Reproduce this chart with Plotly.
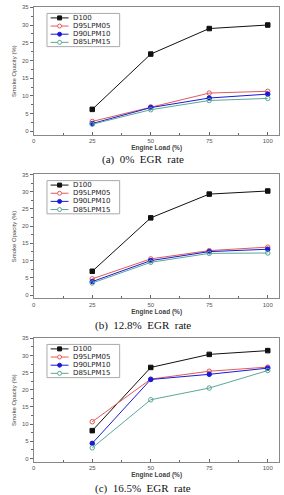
import plotly.graph_objects as go

loads = [25, 50, 75, 100]
series_names = ["D100", "D95LPM05", "D90LPM10", "D85LPM15"]

# (a) 0% EGR
a_d100 = [6.2, 21.8, 29.0, 30.0]
a_d95 = [2.8, 6.9, 10.8, 11.3]
a_d90 = [2.2, 6.7, 9.4, 10.5]
a_d85 = [2.0, 6.1, 8.7, 9.3]

# (b) 12.8% EGR
b_d100 = [6.9, 22.4, 29.3, 30.2]
b_d95 = [4.7, 10.5, 12.9, 13.9]
b_d90 = [3.9, 10.0, 12.6, 13.3]
b_d85 = [3.5, 9.5, 12.1, 12.2]

# (c) 16.5% EGR
c_d100 = [8.1, 26.5, 30.3, 31.4]
c_d95 = [10.7, 23.1, 25.4, 26.6]
c_d90 = [4.4, 23.0, 24.5, 26.3]
c_d85 = [3.1, 17.1, 20.5, 25.6]

NB = "\u00a0"
captions = [f"(a){NB*2}0%{NB*2}EGR{NB*2}rate",
            f"(b){NB*2}12.8%{NB*2}EGR{NB*2}rate",
            f"(c){NB*2}16.5%{NB*2}EGR{NB*2}rate"]
x_ticks = [0, 25, 50, 75, 100]
y_ticks = [0, 5, 10, 15, 20, 25, 30, 35]

colors = ["#111111", "#e35a5a", "#1a1ad6", "#5aa898"]
symbols = ["square", "circle-open", "circle", "circle-open"]
filled = [True, False, True, False]

panels = [
    [a_d100, a_d95, a_d90, a_d85],
    [b_d100, b_d95, b_d90, b_d85],
    [c_d100, c_d95, c_d90, c_d85],
]

W, H = 284, 495
panel_px = [(4.3, 132.7), (172.5, 297.3), (337.3, 461.7)]
caption_px = [157, 324, 488.7]
x_px = (32, 279.4)


def px(xp):
    return xp / W


def py(yp):
    return 1 - yp / H


fig = go.Figure()
for p, data in enumerate(panels):
    xa = "x" if p == 0 else f"x{p+1}"
    ya = "y" if p == 0 else f"y{p+1}"
    for i, vals in enumerate(data):
        fig.add_trace(go.Scatter(
            x=loads, y=vals, name=series_names[i], mode="lines+markers",
            xaxis=xa, yaxis=ya, showlegend=False,
            line=dict(color=colors[i], width=1),
            marker=dict(symbol=symbols[i], size=4.5, color=colors[i],
                        line=dict(color=colors[i], width=1)),
        ))

layout = dict(
    width=W, height=H, margin=dict(l=0, r=0, t=0, b=0),
    paper_bgcolor="white", plot_bgcolor="white",
    font=dict(family="Liberation Sans, Arial", size=6, color="#444"),
    showlegend=False,
)
annotations = []
shapes = []
STEP = 8.2
for p in range(3):
    top, bot = panel_px[p]
    suffix = "" if p == 0 else str(p + 1)
    layout[f"xaxis{suffix}"] = dict(
        domain=[px(x_px[0]), px(x_px[1])], anchor=f"y{suffix}", range=[0, 105],
        tickvals=x_ticks, ticks="inside", ticklen=3, tickcolor="#666",
        showline=True, linecolor="#888", linewidth=1, mirror=True,
        showgrid=False, zeroline=False,
        minor=dict(tickvals=[12.5, 37.5, 62.5, 87.5], ticks="inside", ticklen=2, tickcolor="#666"),
        tickfont=dict(size=6, color="#555"),
        title=dict(text="<b>Engine Load (%)</b>", font=dict(size=6.5, color="#444"), standoff=2),
    )
    layout[f"yaxis{suffix}"] = dict(
        domain=[py(bot), py(top)], anchor=f"x{suffix}", range=[-1, 35],
        tickvals=y_ticks, ticks="outside", ticklen=3, tickcolor="#666",
        showline=True, linecolor="#888", linewidth=1, mirror=True,
        showgrid=False, zeroline=False,
        minor=dict(tickvals=[2.5 + 5 * k for k in range(7)], ticks="outside", ticklen=2, tickcolor="#666"),
        tickfont=dict(size=6, color="#555"),
        title=dict(text="Smoke Opacity (%)", font=dict(size=6, color="#444"), standoff=4),
    )
    # compact legend box like the original
    bx0, bx1 = 45.3, 118.5
    by0, by1 = top + 6.2, top + 10.7 + STEP * 3 + 4.3
    shapes.append(dict(type="rect", xref="paper", yref="paper",
                       x0=px(bx0), x1=px(bx1), y0=py(by1), y1=py(by0),
                       line=dict(color="#aaa", width=1), fillcolor="white", layer="above"))
    for i, name in enumerate(series_names):
        ey = top + 10.7 + STEP * i
        shapes.append(dict(type="line", xref="paper", yref="paper",
                           x0=px(49), x1=px(67), y0=py(ey), y1=py(ey),
                           line=dict(color=colors[i], width=1), layer="above"))
        r = 2.0
        shapes.append(dict(type="rect" if symbols[i] == "square" else "circle",
                           xref="paper", yref="paper",
                           x0=px(58 - r), x1=px(58 + r), y0=py(ey + r), y1=py(ey - r),
                           line=dict(color=colors[i], width=1),
                           fillcolor=colors[i] if filled[i] else "white", layer="above"))
        annotations.append(dict(
            text=name, x=px(70.5), y=py(ey), xref="paper", yref="paper",
            showarrow=False, xanchor="left", yanchor="middle", borderpad=0,
            font=dict(family="DejaVu Sans", size=7, color="#222"),
        ))
    annotations.append(dict(
        text=captions[p], x=0.5, y=py(caption_px[p]), xref="paper", yref="paper",
        showarrow=False, xanchor="center", yanchor="middle",
        font=dict(family="Liberation Serif, Times New Roman", size=11, color="#111"),
    ))
layout["annotations"] = annotations
layout["shapes"] = shapes
fig.update_layout(**layout)
fig.write_html("out.html")
